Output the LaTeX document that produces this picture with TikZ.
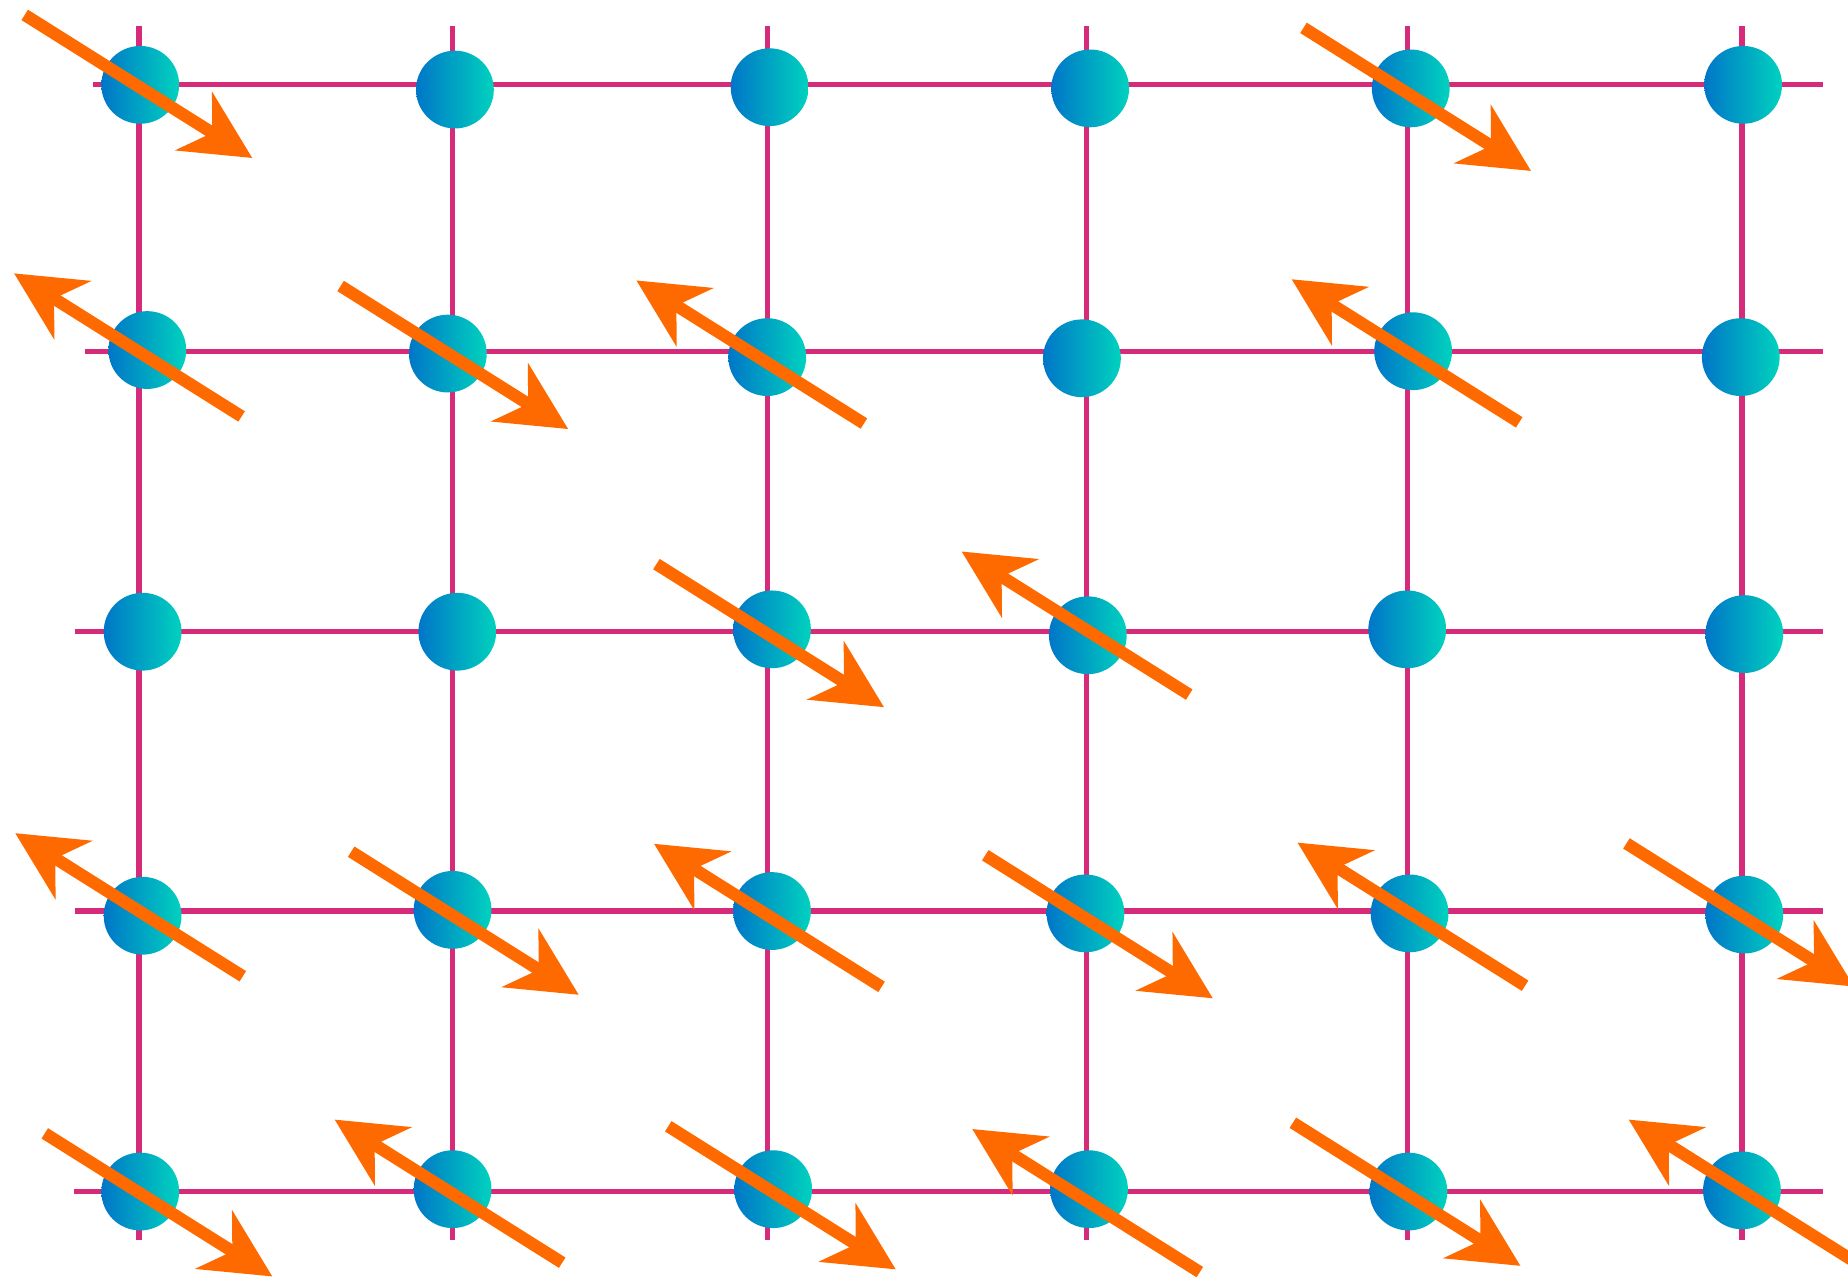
\documentclass[tikz,border=0pt]{standalone}
\definecolor{gridc}{RGB}{214,42,123}
\definecolor{spinc}{RGB}{255,106,0}
\definecolor{atomL}{RGB}{0,118,200}
\definecolor{atomR}{RGB}{0,210,190}
\begin{document}
\begin{tikzpicture}[x=1pt,y=-1pt,
  gridline/.style={draw=gridc, line width=4.4pt},
  atom/.style={circle, minimum size=66pt, inner sep=0pt, left color=atomL, right color=atomR, draw=none},
  spinshaft/.style={draw=spinc, line width=10.4pt},
  spin/.pic={\draw[spinshaft] (-36,0) -- (-228,0);
             \fill[spinc] (0,0) -- (-59,29.6) -- (-40,0) -- (-59,-29.6) -- cycle;},
  dr/.style={rotate=-32.16},
  ul/.style={rotate=147.84}
]
\useasboundingbox (0,0) rectangle (1568,1083.5);
\clip (0,0) rectangle (1568,1083.5);
% grid
\foreach \x in {118,384,651,922,1194,1478}
  \draw[gridline] (\x,22) -- (\x,1052);
\foreach \y/\l in {72/79,298/72,536/64,773/64,1011/63}
  \draw[gridline] (\l,\y) -- (1547,\y);
% atoms
\node[atom] (a11) at (119,72) {};
\node[atom] (a12) at (386,76) {};
\node[atom] (a13) at (653,74) {};
\node[atom] (a14) at (925,75) {};
\node[atom] (a15) at (1197,75) {};
\node[atom] (a16) at (1479,72) {};
\node[atom] (a21) at (125,297) {};
\node[atom] (a22) at (380,300) {};
\node[atom] (a23) at (651,303) {};
\node[atom] (a24) at (918,304) {};
\node[atom] (a25) at (1199,298) {};
\node[atom] (a26) at (1477,303) {};
\node[atom] (a31) at (121,536) {};
\node[atom] (a32) at (388,536) {};
\node[atom] (a33) at (655,534) {};
\node[atom] (a34) at (923,539) {};
\node[atom] (a35) at (1194,534) {};
\node[atom] (a36) at (1480,538) {};
\node[atom] (a41) at (121,777) {};
\node[atom] (a42) at (384,772) {};
\node[atom] (a43) at (655,773) {};
\node[atom] (a44) at (921,775) {};
\node[atom] (a45) at (1196,775) {};
\node[atom] (a46) at (1480,776) {};
\node[atom] (a51) at (119,1011) {};
\node[atom] (a52) at (384,1009) {};
\node[atom] (a53) at (656,1009) {};
\node[atom] (a54) at (924,1009) {};
\node[atom] (a55) at (1195,1011) {};
\node[atom] (a56) at (1478,1010) {};
% spins pointing down-right (tip positions)
\pic[dr] at (214,134) {spin};
\pic[dr] at (1299,145) {spin};
\pic[dr] at (482,364) {spin};
\pic[dr] at (750,600) {spin};
\pic[dr] at (491,844) {spin};
\pic[dr] at (1029,847) {spin};
\pic[dr] at (1573,837) {spin};
\pic[dr] at (231,1083) {spin};
\pic[dr] at (760,1077) {spin};
\pic[dr] at (1290,1074) {spin};
% spins pointing up-left (tip positions)
\pic[ul] at (12,232) {spin};
\pic[ul] at (540,238) {spin};
\pic[ul] at (1096,237) {spin};
\pic[ul] at (816,468) {spin};
\pic[ul] at (13,707) {spin};
\pic[ul] at (555,716) {spin};
\pic[ul] at (1101,715) {spin};
\pic[ul] at (284,950) {spin};
\pic[ul] at (825,958) {spin};
\pic[ul] at (1382,950) {spin};
\end{tikzpicture}
\end{document}
